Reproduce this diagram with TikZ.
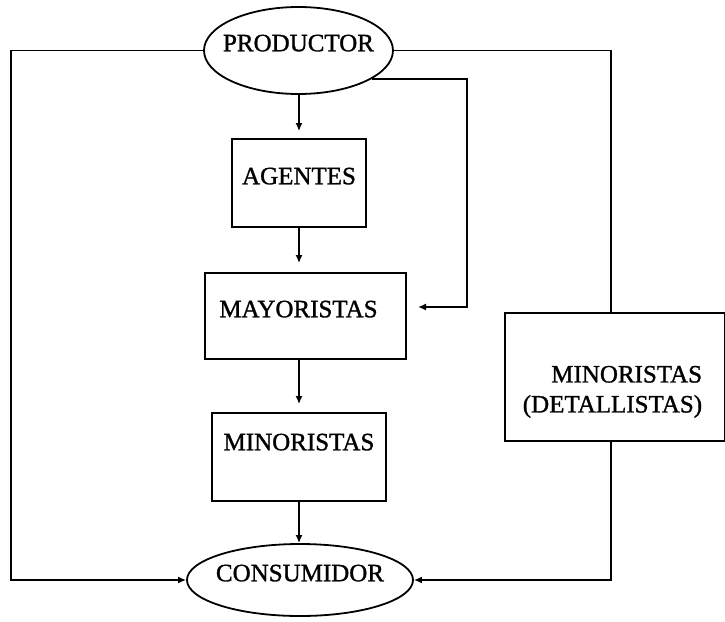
\documentclass[tikz,border=0pt]{standalone}
\usepackage{fontspec}
\setmainfont{Liberation Serif}[FakeBold=1.2]
\usetikzlibrary{arrows.meta,shapes.geometric}
\begin{document}
\begin{tikzpicture}[x=1pt,y=-1pt,
  line width=1.8pt,
  lbl/.style={font=\fontsize{25}{30}\selectfont},
  onetext/.style={lbl, text height=16.5pt},
  boxnode/.style={onetext, draw, rectangle, inner sep=0pt},
  ovalnode/.style={onetext, draw, ellipse, inner sep=0pt},
  arr/.style={-{Latex[length=8pt,width=7pt]}},
]
\useasboundingbox (0,0) rectangle (725,621);

% channel members
\node[ovalnode, minimum width=189pt, minimum height=87pt, text depth=15pt]
  (prod) at (298.5,50.5) {\makebox[0pt]{PRODUCTOR}};
\node[boxnode, minimum width=134pt, minimum height=88pt, text depth=14pt]
  (ag) at (299,183) {AGENTES};
\node[boxnode, minimum width=201pt, minimum height=86pt, text depth=14pt]
  (may) at (305.5,316) {MAYORISTAS\kern14pt};
\node[boxnode, minimum width=174pt, minimum height=88pt, text depth=30pt]
  (min) at (299,457) {MINORISTAS};
\node[ovalnode, minimum width=226pt, minimum height=72pt, text depth=14pt]
  (cons) at (300,580) {\makebox[0pt]{CONSUMIDOR}};
\node[draw, rectangle, inner sep=0pt, minimum width=220pt, minimum height=128pt]
  (rbox) at (615,377) {};
\node[lbl, align=right, inner sep=0pt, anchor=north east]
  (rtext) at (703,365) {MINORISTAS\\(DETALLISTAS)};

% helper coordinates for the outer routes
\coordinate (lx) at (11,0);
\coordinate (rx) at (611,0);
\coordinate (mx) at (467,0);
\coordinate (mtip) at (418,307);

% direct chain
\draw[arr, shorten >=7pt] (prod.south -| ag.north) -- (ag.north);
\draw[arr, shorten >=9pt] (ag.south) -- (ag.south |- may.north);
\draw[arr, shorten >=8pt] (may.south -| min.north) -- (min.north);
\draw[arr] (min.south) -- (min.south |- cons.north);

% producer straight to consumer
\draw[arr] (prod.west) -- (prod.west -| lx) |- (cons.west);

% producer through retailers
\draw (prod.east) -- (prod.east -| rx) -- (rx |- rbox.north);
\draw[arr] (rx |- rbox.south) |- (cons.east);

% producer to wholesalers
\draw[arr] (prod.-21) -- (prod.-21 -| mx) |- (mtip);
\end{tikzpicture}
\end{document}
